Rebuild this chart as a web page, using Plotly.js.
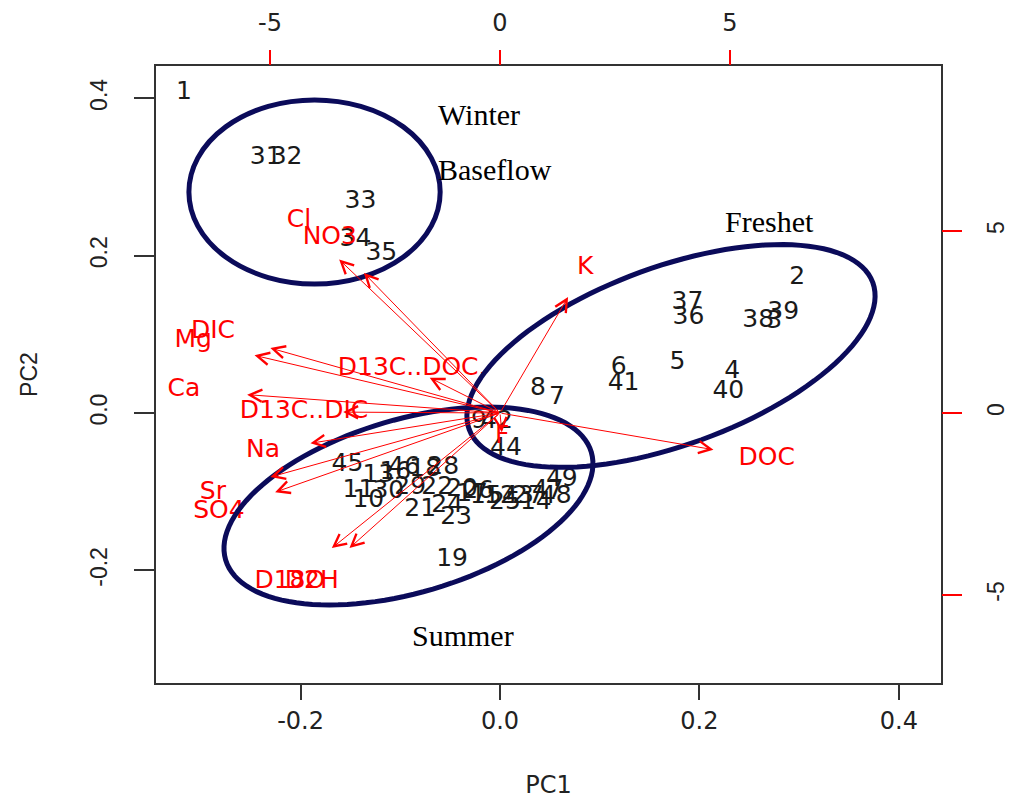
<!DOCTYPE html>
<html><head><meta charset="utf-8">
<script src="https://cdn.plot.ly/plotly-3.0.1.min.js"></script>
<style>body{margin:0;background:#fff}#chart{width:1013px;height:808px}</style>
</head><body><div id="chart"></div>
<script>
// Observation scores (PC1, PC2) - bottom/left axes
const obsLabels = ['1','2','3','4','5','6','7','8','9','10','11','12','13','14','15','16','17','18','19','20','21','22','23','24','25','26','27','28','29','30','31','32','33','34','35','36','37','38','39','40','41','42','43','44','45','46','47','48','49'];
const pc1 = [-0.317,0.298,0.275,0.233,0.178,0.119,0.057,0.038,-0.021,-0.132,-0.142,0.000,-0.122,0.036,-0.014,-0.105,-0.028,-0.075,-0.048,-0.038,-0.080,-0.063,-0.044,-0.053,0.005,-0.022,0.028,-0.057,-0.090,-0.112,-0.235,-0.214,-0.140,-0.145,-0.119,0.189,0.188,0.259,0.284,0.229,0.124,-0.003,0.018,0.006,-0.153,-0.096,0.048,0.056,0.062];
const pc2 = [0.407,0.172,0.116,0.052,0.064,0.058,0.020,0.031,-0.011,-0.111,-0.099,-0.107,-0.080,-0.114,-0.106,-0.076,-0.104,-0.072,-0.187,-0.098,-0.123,-0.095,-0.133,-0.118,-0.114,-0.100,-0.106,-0.070,-0.095,-0.100,0.325,0.325,0.269,0.220,0.202,0.121,0.140,0.117,0.128,0.027,0.037,-0.011,-0.107,-0.046,-0.066,-0.070,-0.099,-0.107,-0.085];

// Variable loadings - top/right axes
const varNames = ['DIC','Mg','Ca','D13C..DOC.','D13C..DIC','Na','Sr','SO4','D18O','D2H','K','DOC','F','Cl','NO3'];
const varPC1 = [-6.24,-6.67,-6.87,-1.91,-4.26,-5.15,-6.24,-6.11,-4.57,-4.09,1.85,5.80,0.05,-4.37,-3.70];
const varPC2 = [2.23,1.98,0.63,1.21,0.03,-1.04,-2.20,-2.72,-4.64,-4.64,3.98,-1.26,-0.66,5.27,4.81];

// Axis ticks
const bottomTicks = [-0.2,0,0.2,0.4];
const bottomTickText = ['-0.2','0.0','0.2','0.4'];
const topTicks = [-5,0,5];
const topTickText = ['-5','0','5'];

const SANS = 'DejaVu Sans';
const ARIAL = 'Liberation Sans, Arial';
const NAVY = '#0b0b5a';
const RED = '#ff0000';

const traces = [
  {type:'scatter', mode:'text', x:pc1, y:pc2, text:obsLabels, textposition:'middle center',
   textfont:{family:SANS, size:25, color:'#1a1a1a'}, xaxis:'x', yaxis:'y', hoverinfo:'none', showlegend:false},
  {type:'scatter', mode:'text', x:varPC1, y:varPC2, text:varNames, textposition:'middle center',
   textfont:{family:SANS, size:25, color:RED}, xaxis:'x2', yaxis:'y2', hoverinfo:'none', showlegend:false}
];

// ellipse outlines (hand-drawn grouping rings)
function ellipsePath(cx, cy, ax, ay, bx, by){
  let p = '';
  for(let i=0;i<=120;i++){
    const t = 2*Math.PI*i/120;
    const x = cx + Math.cos(t)*ax + Math.sin(t)*bx;
    const y = cy + Math.cos(t)*ay + Math.sin(t)*by;
    p += (i===0?'M':'L') + x.toFixed(5) + ',' + y.toFixed(5);
  }
  return p + 'Z';
}
const shapes = [
  {type:'circle', xref:'x', yref:'y', x0:-0.312, x1:-0.060, y0:0.164, y1:0.398, line:{color:NAVY, width:5}},
  {type:'path', xref:'x', yref:'y', path:ellipsePath(0.1715,0.0725, 0.2024,0.0933, 0.0306,-0.1065), line:{color:NAVY, width:5}},
  {type:'path', xref:'x', yref:'y', path:ellipsePath(-0.0918,-0.1182, 0.1834,0.0684, 0.0245,-0.1056), line:{color:NAVY, width:5}}
];

const annotations = varNames.map((n,i)=>({
  x:0.8*varPC1[i], y:0.8*varPC2[i], ax:0, ay:0,
  xref:'x2', yref:'y2', axref:'x2', ayref:'y2',
  showarrow:true, arrowhead:5, arrowsize:2.4, arrowwidth:1, arrowcolor:RED, text:''
}));
const serif = {family:'Liberation Serif, Times New Roman', size:30, color:'#000'};
annotations.push(
  {x:-0.064, y:0.380, xref:'x', yref:'y', text:'Winter', showarrow:false, xanchor:'left', font:serif},
  {x:-0.064, y:0.310, xref:'x', yref:'y', text:'Baseflow', showarrow:false, xanchor:'left', font:serif},
  {x:0.270, y:0.243, xref:'x', yref:'y', text:'Freshet', showarrow:false, font:serif},
  {x:-0.037, y:-0.283, xref:'x', yref:'y', text:'Summer', showarrow:false, font:serif}
);

const tickFontH = {family:SANS, size:24, color:'#222'};
const tickFontV = {family:ARIAL, size:23, color:'#222'};

const layout = {
  width:1013, height:808,
  margin:{l:156, r:72, t:66, b:125},
  paper_bgcolor:'#fff', plot_bgcolor:'#fff',
  showlegend:false,
  xaxis:{range:[-0.345,0.4423], tickvals:bottomTicks, ticktext:bottomTickText, ticks:'outside', ticklen:15, tickwidth:2,
         tickcolor:'#333', showline:true, linecolor:'#333', linewidth:2, mirror:true, showgrid:false, zeroline:false,
         tickfont:tickFontH, ticklabelstandoff:0,
         title:{text:'PC1', font:tickFontH, standoff:42}},
  yaxis:{range:[-0.3432,0.4411], tickvals:bottomTicks, ticktext:bottomTickText, tickangle:-90, ticks:'outside', ticklen:20, tickwidth:2,
         tickcolor:'#333', showline:true, linecolor:'#333', linewidth:2, mirror:true, showgrid:false, zeroline:false,
         tickfont:tickFontV, ticklabelstandoff:18,
         title:{text:'PC2', font:tickFontV, standoff:42}},
  xaxis2:{overlaying:'x', side:'top', anchor:'y', range:[-7.478,9.587], tickvals:topTicks, ticktext:topTickText, ticks:'outside', ticklen:15, tickwidth:1.5,
          tickcolor:RED, showline:false, showgrid:false, zeroline:false, tickfont:tickFontH, ticklabelstandoff:9},
  yaxis2:{overlaying:'y', side:'right', anchor:'x', range:[-7.418,9.533], tickvals:topTicks, ticktext:topTickText, tickangle:-90, ticks:'outside', ticklen:20, tickwidth:1.5,
          tickcolor:RED, showline:false, showgrid:false, zeroline:false, tickfont:tickFontV, ticklabelstandoff:14},
  shapes:shapes,
  annotations:annotations
};

Plotly.newPlot('chart', traces, layout, {displayModeBar:false, staticPlot:true});
</script>
</body></html>
